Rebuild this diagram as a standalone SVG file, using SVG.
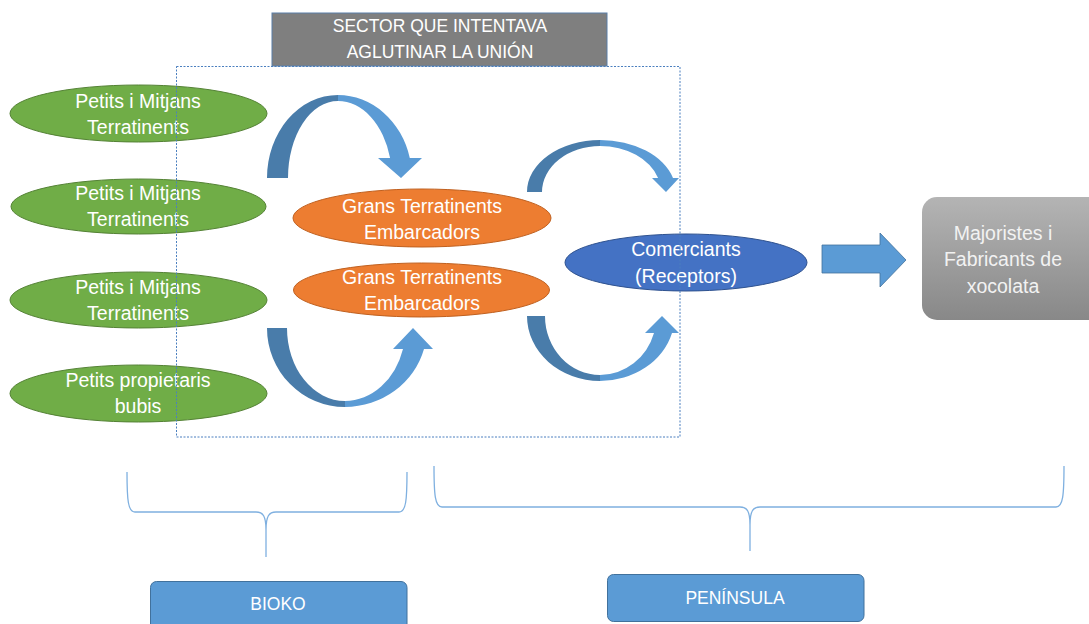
<svg xmlns="http://www.w3.org/2000/svg" width="1089" height="624" viewBox="0 0 1089 624">
<style>
.t{font-family:"Liberation Sans",Arial,sans-serif;fill:#fff;text-anchor:middle}
.n{font-size:19.5px}
.s{font-size:17.5px}
.g{fill:#70ad47;stroke:#548235;stroke-width:1}
.o{fill:#ed7d31;stroke:#c0601f;stroke-width:1}
.b{fill:#4472c4;stroke:#2f528f;stroke-width:1}
.dk{fill:#497caa}
.lt{fill:#5b9bd5}
.br{fill:none;stroke:#7fb0e0;stroke-width:1.3}
.box{fill:#5b9bd5;stroke:#41719c;stroke-width:1}
</style>
<defs>
<linearGradient id="gr" x1="0" y1="0" x2="0" y2="1">
<stop offset="0" stop-color="#b4b4b4"/>
<stop offset="1" stop-color="#888888"/>
</linearGradient>
</defs>
<rect width="1089" height="624" fill="#fff"/>

<g id="connectors">
<!-- top-left curved arrow -->
<path class="dk" d="M267,178 A71,83 0 0 1 338,95 L338,101 A50,77 0 0 0 288,178 Z"/>
<path class="lt" d="M338,95 A74,83 0 0 1 409.8,158 L422,158 L401,178 L378,158 L390.1,158 A54,77 0 0 0 338,101 Z"/>
<!-- bottom-left curved arrow -->
<path class="dk" d="M267,328 A78,79 0 0 0 345,407 L345,401 A58,73 0 0 1 287,328 Z"/>
<path class="lt" d="M345,407 A82,79 0 0 0 424,349 L433,349 L413,328 L393,349 L403,349 A60.5,73 0 0 1 345,401 Z"/>
<!-- top-right curved arrow -->
<path class="dk" d="M527,192 A73,52 0 0 1 600,140 L600,146 A58,46 0 0 0 542,192 Z"/>
<path class="lt" d="M600,140 A75.8,52 0 0 1 673,178 L679,178 L666,192 L652,178 L658.1,178 A61,46 0 0 0 600,146 Z"/>
<!-- bottom-right curved arrow -->
<path class="dk" d="M527,316 A73,65 0 0 0 600,381 L600,375 A55,59 0 0 1 545,316 Z"/>
<path class="lt" d="M600,381 A74.6,65 0 0 0 672,333 L679,333 L662,316 L645,333 L654,333 A56.4,59 0 0 1 600,375 Z"/>
<!-- straight arrow -->
<path d="M822,245 L880,245 L880,233 L906,260 L880,287 L880,273 L822,273 Z" fill="#5b9bd5" stroke="#41719c" stroke-width="0.8"/>
<!-- braces -->
<path class="br" d="M127,472 C127,500 128,512 135,512 L256,512 C263,512 266,516 266,530 L266,557 M266,530 C266,516 269,512 276,512 L399,512 C406,512 407,500 407,472"/>
<path class="br" d="M434,466 C434,495 435,507 442,507 L740,507 C747,507 750,511 750,525 L750,551 M750,525 C750,511 753,507 760,507 L1056,507 C1063,507 1064,495 1064,466"/>
</g>

<g id="sector">
<rect x="272" y="13" width="335" height="53" fill="#7f7f7f" stroke="#5a7fa8" stroke-width="1"/>
<text class="t s" x="440" y="32">SECTOR QUE INTENTAVA</text>
<text class="t s" x="440" y="58">AGLUTINAR LA UNIÓN</text>
</g>

<g id="petits1">
<ellipse class="g" cx="138.5" cy="113.5" rx="128.5" ry="28.5"/>
<text class="t n" x="138" y="108">Petits i Mitjans</text>
<text class="t n" x="138" y="134">Terratinents</text>
</g>
<g id="petits2">
<ellipse class="g" cx="138.5" cy="206.5" rx="127.5" ry="27.5"/>
<text class="t n" x="138" y="200">Petits i Mitjans</text>
<text class="t n" x="138" y="226">Terratinents</text>
</g>
<g id="petits3">
<ellipse class="g" cx="138.5" cy="300" rx="128.5" ry="28"/>
<text class="t n" x="138" y="294">Petits i Mitjans</text>
<text class="t n" x="138" y="320">Terratinents</text>
</g>
<g id="petits4">
<ellipse class="g" cx="138.5" cy="393.5" rx="128.5" ry="28.5"/>
<text class="t n" x="138" y="387">Petits propietaris</text>
<text class="t n" x="138" y="413">bubis</text>
</g>

<g id="grans1">
<ellipse class="o" cx="422" cy="218" rx="129" ry="29"/>
<text class="t n" x="422" y="213">Grans Terratinents</text>
<text class="t n" x="422" y="239">Embarcadors</text>
</g>
<g id="grans2">
<ellipse class="o" cx="421.5" cy="290" rx="128" ry="27"/>
<text class="t n" x="422" y="284">Grans Terratinents</text>
<text class="t n" x="422" y="310">Embarcadors</text>
</g>

<g id="comerciants">
<ellipse class="b" cx="686" cy="262.5" rx="121" ry="28.5"/>
<text class="t n" x="686" y="256">Comerciants</text>
<text class="t n" x="686" y="283">(Receptors)</text>
</g>

<g id="majoristes">
<rect x="922" y="197" width="190" height="123" rx="15" fill="url(#gr)"/>
<text class="t n" x="1003" y="240" style="fill:#f2f2f2">Majoristes i</text>
<text class="t n" x="1003" y="266" style="fill:#f2f2f2">Fabricants de</text>
<text class="t n" x="1003" y="293" style="fill:#f2f2f2">xocolata</text>
</g>

<g id="region">
<rect x="176.5" y="66.5" width="503.5" height="370.5" fill="none" stroke="#4a7fbf" stroke-width="1" stroke-dasharray="2,1.5"/>
</g>

<g id="bioko">
<rect class="box" x="150.5" y="581.5" width="256.5" height="50" rx="6"/>
<text class="t s" x="278" y="610">BIOKO</text>
</g>
<g id="peninsula">
<rect class="box" x="607.5" y="574.5" width="256.5" height="47" rx="6"/>
<text class="t s" x="735" y="604">PENÍNSULA</text>
</g>
</svg>
